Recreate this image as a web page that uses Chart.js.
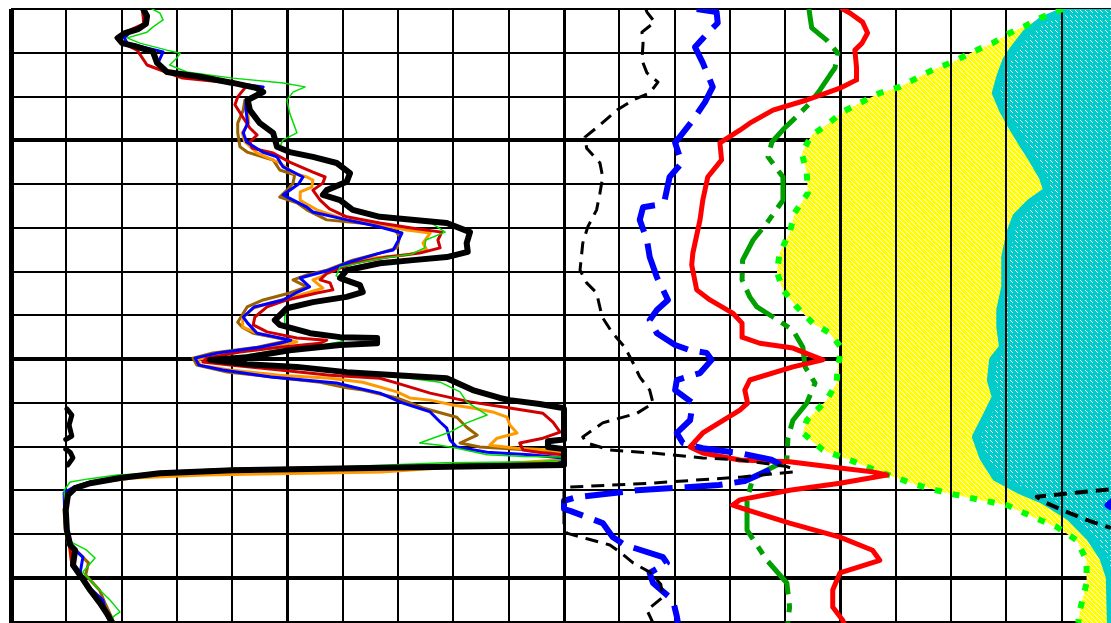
<!DOCTYPE html>
<html>
<head>
<meta charset="utf-8">
<title>Well log</title>
<style>
  html, body { margin: 0; padding: 0; background: #ffffff; overflow: hidden; }
  canvas { display: block; }
</style>
<script src="https://cdn.jsdelivr.net/npm/chart.js@4.4.1/dist/chart.umd.min.js"></script>
</head>
<body>
<canvas id="log" width="1111" height="623"></canvas>
<script>
// Depth runs down the page (0 = top of the section, 10 units per grid row).
// Curve values use 10 units per grid column: left track 0-100, right track 100-200.

// Grid ticks
const DEPTH_GRID = [0, 10, 20, 30, 40, 50, 60, 70, 80, 90, 100, 110, 120, 130, 140];
const HEAVY_DEPTHS = [30, 80, 130];
const VALUE_GRID = [0, 10, 20, 30, 40, 50, 60, 70, 80, 90, 100, 110, 120, 130, 140, 150, 160, 170, 180, 190];
const HEAVY_VALUES = [0, 50, 100, 150];
const LEFT_TRACK = [0, 100];
const RIGHT_TRACK = [100, 200];

// Left track: main gamma-ray pass [depth, value]
const GR_MAIN = [[0,23.9],[1.6,24.6],[3.4,24.4],[4.6,23.0],[5.5,20.6],[6.6,19.3],[7.8,20.1],[8.5,22.4],[9.8,25.7],[12.3,26.4],[14.4,28.2],[15.5,34.2],[16.9,40.1],[18.1,44.5],[19.0,45.6],[20.8,42.8],[23.1,43.2],[26.1,45.0],[28.3,47.4],[31.5,48.1],[32.7,50.4],[33.8,54.6],[35.2,58.9],[37.5,61.3],[39.5,60.7],[41.4,57.1],[42.5,56.4],[43.7,59.5],[45.9,61.8],[47.5,66.7],[48.9,78.8],[51.0,83.0],[53.5,82.4],[55.5,82.6],[56.7,78.8],[57.4,72.7],[58.1,66.7],[59.7,60.7],[61.5,59.5],[63.1,63.1],[64.7,63.6],[65.8,60.7],[67.0,54.6],[68.4,49.9],[71.1,47.7],[72.2,48.6],[74.1,54.1],[75.0,59.5],[75.2,66.2],[76.4,66.2],[76.8,59.5],[78.0,50.4],[79.6,42.7],[80.2,36.0],[81.2,42.7],[81.8,51.7],[83.0,60.7],[83.7,69.8],[84.4,78.8],[87.1,83.5],[88.9,88.4],[89.4,90.2],[90.3,95.6],[91.2,99.8],[91.4,110.1],[92.8,111.0],[95.1,110.5],[97.6,111.0],[98.4,109.9],[98.8,97.1],[100.1,97.1],[100.6,109.9],[101.3,110.7],[102.6,111.2],[104.2,110.3],[104.5,84.8],[104.9,64.9],[105.4,40.1],[106.1,26.9],[107.2,19.7],[108.4,14.3],[109.5,11.6],[111.1,10.3],[114.5,9.9],[119.1,10.1],[122.5,10.7],[123.7,11.6],[127.1,11.2],[129.4,12.5],[132.8,14.3],[135.8,16.1],[138.5,17.5],[140.3,18.3]];

// Left track: repeat passes
const RUN_GREEN = [[0,25.5],[0.9,26.9],[2.5,27.5],[4.1,25.7],[5.3,24.6],[6.6,21.0],[7.8,23.3],[9.4,28.2],[10.1,30.6],[11.2,30.0],[12.8,28.7],[14.4,31.8],[15.8,40.1],[16.9,49.2],[17.8,53.2],[19.0,51.0],[20.8,49.9],[23.8,50.4],[28.3,51.7],[29.9,49.2],[31.5,48.6],[32.7,50.8],[33.8,55.0],[35.2,59.3],[37.5,61.7],[39.5,61.1],[41.4,57.5],[42.5,56.8],[43.7,59.9],[45.9,62.2],[47.5,67.0],[48.9,76.0],[51.0,78.5],[52.8,75.0],[54.6,74.8],[56.0,72.5],[57.2,66.0],[59.0,59.5],[61.0,58.8],[63.1,62.5],[64.4,64.0],[65.8,60.5],[67.0,54.0],[68.4,50.0],[70.4,49.5],[72.2,49.5],[74.1,54.5],[75.0,59.0],[76.0,60.0],[77.0,55.0],[78.0,48.0],[79.6,40.0],[80.5,37.0],[81.2,41.0],[82.0,50.0],[83.2,60.5],[84.4,72.0],[85.3,77.6],[87.5,81.2],[89.8,82.4],[92.8,86.1],[94.6,82.4],[96.7,79.4],[99.2,73.9],[99.7,77.6],[100.4,80.6],[101.9,86.1],[102.3,93.0],[102.4,99.8],[103.0,100],[103.5,96.0],[103.7,78.5],[104.6,60.0],[105.0,45.0],[105.8,30.0],[106.5,19.2],[107.4,14.0],[108.1,10.7],[110.0,9.6],[114.5,9.8],[119.1,10.1],[121.9,11.0],[123.7,13.7],[125.5,15.2],[128.7,13.0],[132.1,15.5],[135.1,17.9],[137.8,19.7],[139.0,18.4],[140.3,18.6]];
const RUN_BLUE = [[0,24.0],[3.4,24.5],[5.3,21.5],[6.6,20.5],[7.8,21.0],[9.8,27.5],[12.3,26.6],[14.4,28.3],[15.5,34.3],[16.9,40.2],[17.8,45.6],[19.0,45.0],[20.8,42.6],[23.1,42.5],[26.1,42.8],[28.3,42.0],[30.4,42.6],[32.7,45.5],[33.8,48.1],[36.1,49.2],[38.4,52.8],[40.0,52.0],[42.5,49.2],[45.3,53.5],[46.4,54.6],[48.2,60.7],[49.6,66.0],[51.2,70.7],[53.0,70.0],[55.1,69.1],[55.8,66.7],[57.8,61.3],[59.7,57.5],[61.5,52.3],[63.5,54.0],[64.9,51.5],[66.5,49.2],[68.1,44.0],[70.4,42.0],[71.8,42.8],[74.1,44.5],[75.7,50.6],[76.4,48.6],[77.3,45.0],[78.6,37.5],[79.8,33.3],[81.4,34.0],[82.5,38.3],[84.1,47.0],[85.5,58.9],[86.4,61.8],[87.8,66.7],[90.1,70.9],[92.1,75.8],[94.4,77.6],[95.8,78.8],[98.5,79.4],[100.1,80.6],[101.3,86.1],[101.9,93.8],[102.6,99.8],[103.2,100],[104.0,99.0],[104.6,70.0],[105.3,40.0],[106.0,26.7],[107.0,19.4],[108.2,14.0],[109.3,11.3],[110.6,9.6],[114.5,9.7],[119.0,9.9],[122.5,10.5],[125.3,13.0],[128.9,12.5],[132.0,14.0],[135.1,16.6],[138.5,17.3],[140.3,18.0]];
const RUN_RED = [[0,23.8],[3.4,24.0],[5.5,20.3],[6.6,19.0],[8.0,20.5],[9.4,22.8],[12.8,24.6],[14.4,28.0],[15.8,31.0],[16.9,40.0],[17.4,42.7],[20.1,41.0],[21.9,40.5],[24.7,41.9],[27.2,43.2],[28.8,44.5],[30.4,43.2],[31.8,43.6],[32.9,47.4],[35.0,50.4],[36.3,52.8],[37.3,54.6],[38.4,56.8],[39.8,56.4],[41.4,54.6],[43.7,55.9],[45.7,57.6],[47.5,60.7],[48.9,66.7],[50.1,72.7],[51.0,77.9],[52.8,77.2],[54.6,77.6],[55.8,73.9],[56.7,68.0],[58.1,61.8],[60.4,57.1],[61.9,55.9],[62.6,57.7],[64.2,58.2],[64.9,55.3],[66.5,49.9],[68.1,46.3],[70.4,44.1],[72.2,43.8],[73.8,46.3],[75.2,51.7],[75.7,57.1],[76.4,55.9],[77.3,48.6],[78.4,41.4],[79.8,35.4],[80.7,34.7],[81.4,39.6],[82.5,48.6],[83.7,57.7],[84.4,66.7],[85.5,69.8],[87.8,75.8],[89.8,83.0],[91.2,90.2],[92.4,96.2],[94.4,98.0],[96.7,99.3],[98.1,96.2],[99.2,92.0],[100.8,92.6],[101.5,96.2],[101.9,99.8],[102.8,100],[103.8,99.0],[104.4,80.0],[104.8,60.0],[105.2,40.0],[105.9,27.0],[107.0,19.7],[108.2,14.3],[109.4,11.6],[111.0,10.2],[114.5,9.8],[119.0,10.0],[122.5,10.6],[127.0,11.0],[129.4,12.3],[132.8,14.1],[135.8,15.9],[138.5,17.3],[140.3,18.1]];
const RUN_ORANGE = [[0,23.8],[3.4,24.3],[6.6,19.2],[7.8,20.0],[9.8,25.5],[12.3,26.3],[14.4,28.1],[15.5,34.0],[16.9,40.0],[18.1,44.3],[19.0,45.2],[20.8,42.5],[23.1,42.8],[26.1,43.0],[28.3,41.8],[30.4,42.3],[32.9,44.5],[35.2,48.6],[37.5,51.0],[38.4,53.5],[39.1,54.6],[40.7,54.4],[41.8,52.3],[43.7,52.3],[45.9,55.3],[48.2,60.7],[49.4,66.7],[50.5,71.6],[51.2,75.8],[53.5,74.5],[55.1,75.2],[56.2,71.6],[56.9,65.4],[59.0,59.5],[61.3,55.9],[61.9,54.6],[63.8,56.4],[64.9,53.5],[67.0,47.4],[68.4,43.8],[70.6,41.9],[72.7,41.9],[74.1,44.5],[76.1,51.7],[77.3,45.6],[78.6,38.3],[80.2,33.8],[81.4,34.2],[82.5,39.6],[83.7,48.6],[84.4,57.7],[85.3,63.6],[87.5,69.8],[88.9,72.1],[89.4,75.8],[90.5,79.9],[91.2,83.5],[92.1,87.1],[93.3,89.7],[95.1,90.2],[96.9,91.5],[98.1,87.9],[99.7,86.6],[100.4,91.5],[100.8,97.5],[101.3,99.8],[101.8,100],[103.0,99.5],[105.8,67.0],[106.3,45.0],[106.5,35.0],[107.2,22.0],[108.4,14.3],[109.5,11.4],[111.0,10.1],[114.5,9.7],[119.0,9.9],[122.5,10.5],[127.0,11.0],[129.4,12.3],[132.8,14.1],[135.8,15.9],[138.5,17.3],[140.3,18.1]];
const RUN_BROWN = [[0,23.7],[3.4,24.2],[6.6,19.1],[7.8,19.9],[9.8,25.4],[12.3,26.2],[14.4,28.0],[15.5,33.8],[16.9,39.8],[18.1,44.0],[19.0,45.0],[20.8,42.3],[23.1,42.0],[26.1,41.0],[28.3,41.0],[31.5,41.4],[32.7,42.7],[34.5,47.4],[36.8,48.6],[37.9,51.3],[39.8,51.0],[41.4,49.9],[43.0,48.6],[44.3,51.7],[45.9,53.5],[48.2,57.1],[48.9,63.1],[49.8,69.1],[52.1,70.3],[54.6,69.8],[55.8,66.7],[57.4,61.8],[59.7,57.1],[60.8,53.5],[61.9,51.0],[63.5,53.5],[64.9,50.4],[66.5,45.6],[68.1,42.7],[71.6,41.0],[72.7,41.8],[74.1,43.8],[75.7,50.4],[77.3,44.5],[78.6,36.5],[79.8,32.9],[81.4,33.6],[83.0,39.1],[84.1,47.4],[85.3,55.9],[86.6,60.7],[87.1,63.6],[88.9,69.8],[91.2,74.5],[93.3,80.6],[95.6,82.4],[97.4,84.3],[99.2,81.2],[100.1,84.8],[100.8,93.8],[101.3,99.8],[102.0,100],[103.5,99.0],[104.6,70.0],[105.2,40.0],[106.0,26.5],[107.1,19.5],[108.3,14.1],[109.4,11.4],[111.0,10.0],[114.5,9.6],[119.0,9.8],[122.5,10.4],[123.7,11.8],[126.6,14.0],[129.4,13.5],[132.8,16.0],[135.8,17.0],[138.5,18.0],[140.3,18.6]];

// Right track curves [depth, value]
const CURVE_BLACK = [[0,114.8],[0.7,115.0],[3.0,116.4],[5.3,114.1],[7.8,114.3],[11.7,114.1],[14.6,115.0],[16.7,117.0],[19.2,115.5],[20.8,112.5],[23.1,109.6],[26.5,106.5],[29.3,103.8],[31.8,104.1],[35.2,106.5],[38.4,107.0],[42.1,106.5],[45.9,105.9],[49.8,104.3],[53.5,103.4],[59.7,102.9],[62.6,104.1],[64.9,105.9],[70.4,106.9],[74.1,108.8],[77.3,111.0],[80.9,112.5],[84.1,113.7],[87.1,115.5],[90.1,116.1],[92.4,113.2],[94.6,107.0],[97.8,103.4],[99.2,104.1],[100.8,108.3],[101.5,116.1],[102.6,125.1],[103.1,131.8],[104.5,140.0],[105.2,141.7],[105.8,141.4],[107.0,131.8],[108.4,115.5],[109.3,100.5],[109.8,98.5],[110.6,92.0],[111.5,85.5],[112.8,87.0],[115.0,91.0],[117.0,95.0],[118.6,98.9],[119.8,100.5],[121.2,104.5],[122.5,108.3],[124.5,110.5],[126.6,112.5],[128.7,115.5],[131.5,117.5],[134.4,117.9],[137.4,115.0],[140.3,116.1]];
const CURVE_BLUE = [[0,124.0],[0.7,127.6],[3.2,127.8],[5.5,126.0],[8.7,123.7],[12.3,125.1],[17.8,126.9],[21.3,125.5],[25.4,123.3],[30.6,120.1],[35.2,121.3],[38.4,119.1],[43.7,118.2],[44.8,116.8],[45.3,114.3],[48.2,113.7],[52.8,115.0],[56.7,115.5],[61.3,116.8],[66.5,118.8],[68.8,116.8],[71.1,115.5],[74.1,116.8],[76.8,120.1],[78.0,122.8],[78.6,125.8],[80.2,126.7],[83.2,124.6],[84.8,120.4],[87.1,120.1],[90.1,123.3],[94.0,122.8],[96.9,120.4],[99.2,121.5],[100.4,125.1],[101.5,131.8],[103.0,137.5],[104.2,139.2],[105.5,137.0],[107.9,132.7],[108.8,128.0],[109.3,122.2],[110.0,113.2],[111.6,102.3],[112.4,99.2],[113.4,98.3],[114.3,99.5],[114.7,101.1],[117.5,107.0],[120.7,108.8],[122.5,111.0],[125.3,117.9],[126.6,118.6],[128.9,115.5],[131.2,116.1],[135.1,119.7],[138.8,120.4],[140.3,120.6]];
const CURVE_RED = [[0,150.4],[0.9,151.7],[3.0,154.0],[5.5,154.9],[7.8,153.9],[9.4,152.6],[13.3,152.9],[16.2,152.9],[18.1,149.9],[20.8,143.9],[23.1,137.8],[26.1,133.6],[27.7,131.8],[30.6,128.2],[34.5,128.5],[38.4,126.0],[43.7,125.1],[48.2,124.6],[55.8,123.3],[58.5,123.1],[64.2,124.0],[66.5,126.4],[69.5,130.5],[71.8,132.2],[75.0,132.2],[76.4,135.4],[77.5,141.4],[80.2,146.8],[81.8,141.4],[84.8,133.6],[87.1,132.7],[90.1,133.2],[91.7,131.8],[96.9,125.1],[100.1,122.8],[101.5,125.1],[103.1,131.8],[103.5,140.8],[104.9,149.9],[105.8,155.8],[106.5,158.4],[108.4,149.9],[110.0,140.8],[112.2,131.8],[113.4,130.5],[114.5,133.1],[117.5,140.8],[120.7,149.9],[123.7,155.8],[126.0,157.1],[128.9,149.9],[132.8,148.6],[136.7,148.6],[139.7,150.4],[140.3,150.6]];
const CURVE_GREEN = [[0,144.3],[1.8,144.5],[4.3,144.8],[7.1,147.5],[10.1,149.5],[13.5,149.0],[15.1,148.1],[18.5,146.3],[21.5,144.5],[25.4,141.4],[27.2,139.9],[30.4,137.6],[33.8,136.9],[38.4,139.6],[42.1,139.6],[43.7,139.6],[48.9,136.7],[52.8,134.2],[57.4,132.3],[61.9,132.2],[65.8,133.6],[68.1,134.9],[70.4,137.8],[73.4,141.4],[77.3,143.2],[81.8,143.6],[85.5,145.4],[90.1,143.9],[94.0,141.4],[98.0,140.5],[103.1,140.3],[107.0,134.2],[112.2,133.1],[119.1,133.1],[126.0,136.7],[131.2,140.3],[136.7,140.8],[139.7,140.5],[140.3,140.5]];

// Shading boundaries
const SAND_EDGE = [[0,190.2],[2.1,186.0],[3.7,183.7],[5.5,180.6],[7.8,177.5],[9.8,173.9],[12.1,170.3],[13.9,166.7],[15.8,163.8],[17.8,160.7],[19.2,157.1],[21.5,153.5],[23.5,150.4],[26.5,147.5],[28.8,144.8],[32.9,143.0],[37.5,143.9],[42.1,144.1],[46.6,141.7],[51.2,140.8],[55.8,139.0],[60.1,138.5],[64.2,139.6],[68.1,142.1],[71.8,145.0],[74.1,148.1],[77.5,150.2],[81.8,149.5],[85.5,149.3],[89.4,147.5],[94.0,143.9],[96.9,143.2],[100.8,146.8],[103.1,151.7],[105.8,157.1],[108.8,163.8],[110.6,169.2],[112.2,175.2],[113.4,180.1],[116.1,184.8],[118.4,189.1],[121.4,192.7],[126.0,194.5],[131.2,194.5],[137.4,193.3],[140.3,193.0]];
const SHALE_EDGE = [[0.5,190.5],[2.5,186.6],[5.5,183.6],[9.4,181.2],[11.7,180.0],[15.5,178.9],[19.2,178.1],[23.1,179.4],[26.1,180.7],[29.9,182.5],[34.5,184.8],[38.4,186.6],[40.7,187.2],[41.4,187.5],[44.3,184.3],[47.5,181.8],[51.2,180.7],[56.7,179.8],[63.5,179.8],[68.8,178.9],[72.7,178.9],[77.3,179.4],[80.2,177.6],[84.8,177.2],[88.7,178.1],[93.3,176.3],[97.8,174.5],[102.4,175.8],[107.0,178.1],[110.0,182.5],[112.2,186.6],[116.1,191.5],[120.7,195.1],[125.3,197.5],[129.8,198.7],[140.3,198.9]];

// View window
const VIEW_VALUE_MAX = 198.92;
const VIEW_DEPTH_MAX = 140.34;

// ---- helpers ----
const toXY = arr => arr.map(([d, v]) => ({ x: v, y: d }));
// keep a curve inside its track (pinned to the edge where it runs off scale)
const inTrack = (arr, [lo, hi]) => arr.map(([d, v]) => ({ x: Math.min(hi, Math.max(lo, v)), y: d }));
// backup trace: the off-scale part shifted by one track width
const backup = (arr, [lo, hi]) => arr.map(([d, v]) => {
  if (v > hi) return { x: v - (hi - lo), y: d };
  if (v < lo) return { x: v + (hi - lo), y: d };
  return { x: null, y: null };
});
// closed outline from a boundary to beyond the right edge of the view
const toRightEdge = edge => [
  { x: edge[0][1], y: -4 },
  ...toXY(edge),
  { x: edge[edge.length - 1][1], y: VIEW_DEPTH_MAX + 4 },
  { x: 206, y: VIEW_DEPTH_MAX + 4 },
  { x: 206, y: -4 }
];

// diagonal white hatching on a solid colour
function hatch(base, size, run) {
  const c = document.createElement('canvas');
  c.width = c.height = size;
  const g = c.getContext('2d');
  g.fillStyle = base;
  g.fillRect(0, 0, size, size);
  g.fillStyle = '#ffffff';
  for (let i = 0; i < run; i++) g.fillRect(i, i, 1, 1);
  return g.createPattern(c, 'repeat');
}

const ctx = document.getElementById('log').getContext('2d');
const sandPattern = hatch('#ffff00', 5, 5);
const shalePattern = hatch('#00cccc', 5, 3);

const curve = (label, data, color, width, extra) => Object.assign({
  label, data, showLine: true, fill: false, tension: 0,
  borderColor: color, borderWidth: width,
  pointRadius: 0, pointHoverRadius: 0,
  borderJoinStyle: 'round', borderCapStyle: 'round'
}, extra || {});

const datasets = [
  curve('GR', inTrack(GR_MAIN, LEFT_TRACK), '#000000', 6),
  curve('GR backup', backup(GR_MAIN, LEFT_TRACK), '#000000', 5),
  curve('GR pass 5', toXY(RUN_GREEN), '#00dd00', 1.5),
  curve('GR pass 4', toXY(RUN_BLUE), '#0000ff', 3),
  curve('GR pass 3', toXY(RUN_RED), '#d00000', 3),
  curve('GR pass 2', toXY(RUN_ORANGE), '#ff9900', 3),
  curve('GR pass 1', toXY(RUN_BROWN), '#9a6200', 3),
  curve('Curve 1', inTrack(CURVE_BLACK, RIGHT_TRACK), '#000000', 3, { borderDash: [13, 8], borderCapStyle: 'butt' }),
  curve('Curve 1 backup', backup(CURVE_BLACK, RIGHT_TRACK), '#000000', 4, { borderDash: [13, 8], borderCapStyle: 'butt' }),
  curve('Curve 2', inTrack(CURVE_BLUE, RIGHT_TRACK), '#0000ff', 6, { borderDash: [38, 12], borderCapStyle: 'butt' }),
  curve('Curve 2 backup', backup(CURVE_BLUE, RIGHT_TRACK), '#0000ff', 6),
  curve('Curve 3', toXY(CURVE_RED), '#ff0000', 5),
  curve('Curve 4', toXY(CURVE_GREEN), '#00a000', 5, { borderDash: [40, 9, 9, 9], borderCapStyle: 'butt' }),
  curve('Sand line', toXY(SAND_EDGE), '#00ff00', 6, { borderDash: [7, 11], borderCapStyle: 'butt' }),
  curve('Shale fill', toRightEdge(SHALE_EDGE), '#00cccc', 8, { fill: 'shape', backgroundColor: shalePattern }),
  curve('Sand fill', toRightEdge(SAND_EDGE), 'rgba(0,0,0,0)', 1, { fill: 'shape', backgroundColor: sandPattern })
];

// Depth lines sit under the shading; track columns are drawn over it.
const trackGrid = {
  id: 'trackGrid',
  beforeDatasetsDraw(chart) {
    const { ctx: g, chartArea: a, scales: { y } } = chart;
    g.save();
    g.strokeStyle = '#000000';
    DEPTH_GRID.forEach(d => {
      const heavy = HEAVY_DEPTHS.includes(d);
      const py = Math.round(y.getPixelForValue(d));
      g.lineWidth = heavy ? 4 : 2;
      g.beginPath();
      g.moveTo(a.left, py);
      g.lineTo(a.right, py);
      g.stroke();
    });
    g.restore();
  },
  afterDatasetDraw(chart, args) {
    if (chart.data.datasets[args.index].label !== 'Shale fill') return;
    const { ctx: g, chartArea: a, scales: { x } } = chart;
    g.save();
    g.strokeStyle = '#000000';
    VALUE_GRID.forEach(v => {
      const heavy = HEAVY_VALUES.includes(v);
      const w = v === 0 ? 5 : heavy ? 3 : 2;
      let px = Math.round(x.getPixelForValue(v));
      if (w % 2) px += 0.5;
      g.lineWidth = w;
      g.beginPath();
      g.moveTo(px, a.top);
      g.lineTo(px, a.bottom);
      g.stroke();
    });
    g.restore();
  }
};

new Chart(ctx, {
  type: 'scatter',
  data: { datasets },
  options: {
    responsive: false,
    devicePixelRatio: 1,
    animation: false,
    events: [],
    layout: { padding: { left: 11, top: 9, right: 0, bottom: 0 } },
    scales: {
      x: { type: 'linear', min: 0, max: VIEW_VALUE_MAX, display: false },
      y: { type: 'linear', min: 0, max: VIEW_DEPTH_MAX, reverse: true, display: false }
    },
    plugins: {
      legend: { display: false },
      tooltip: { enabled: false }
    }
  },
  plugins: [trackGrid]
});
</script>
</body>
</html>
